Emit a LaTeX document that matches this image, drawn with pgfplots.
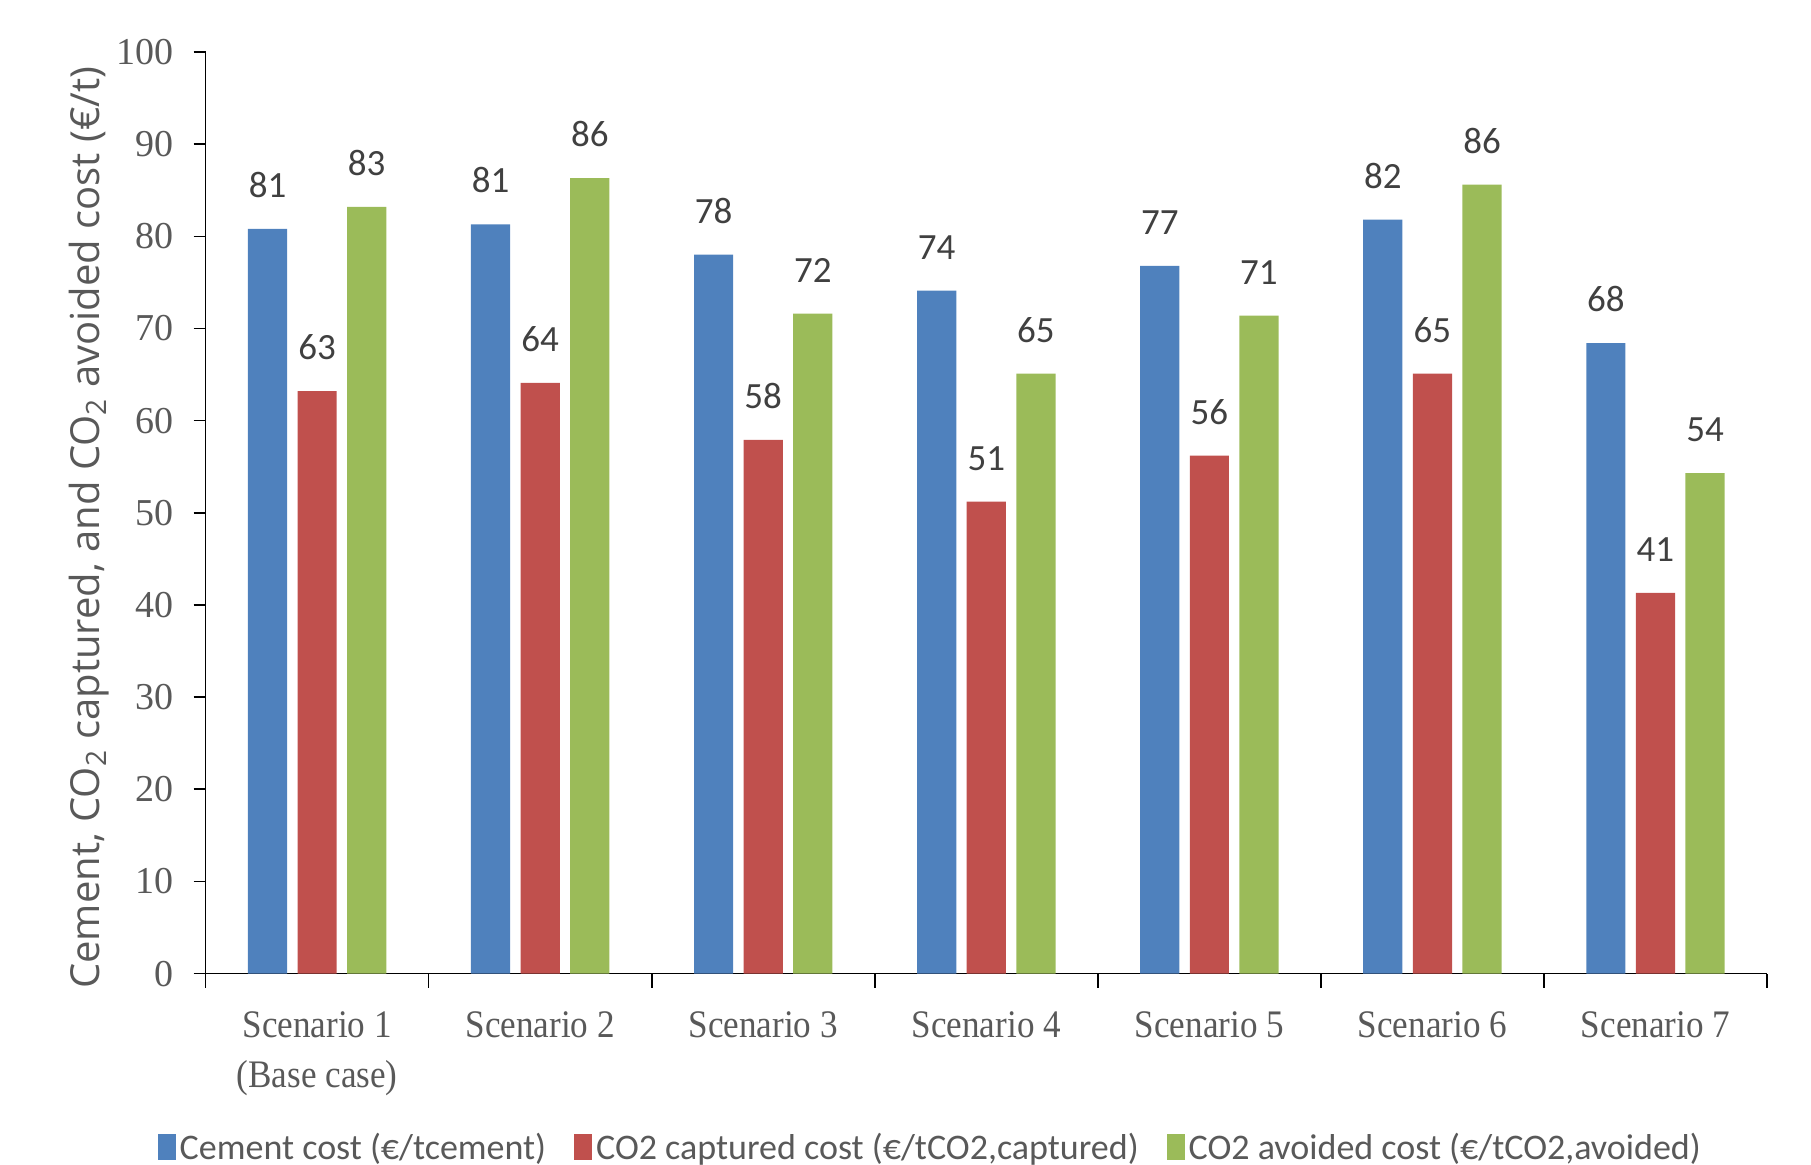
\documentclass[border=0pt]{standalone}
\usepackage{fontspec}
\setmainfont{Carlito}
\newfontfamily\labfont{Open Sans}
\newfontfamily\tickfont[FakeStretch=0.9]{Liberation Serif}
\newfontfamily\numfont{Liberation Serif}
\usepackage{pgfplots}
\pgfplotsset{compat=1.18}
\definecolor{cblue}{HTML}{4F81BD}
\definecolor{cred}{HTML}{C0504D}
\definecolor{cgreen}{HTML}{9BBB59}
\definecolor{tgray}{HTML}{595959}
\definecolor{lgray}{HTML}{404040}
\begin{document}
\begin{tikzpicture}
\path[use as bounding box] (-102.8pt,-95.7pt) rectangle (802.7pt,486.8pt);
\begin{axis}[
  at={(0,0)}, anchor=south west,
  scale only axis, width=780.7pt, height=460.8pt,
  ybar=5.2pt, bar width=19.6pt,
  xmin=-0.5, xmax=6.5, ymin=0, ymax=100,
  ytick={0,10,...,100},
  xtick={0,...,6},
  xticklabels={{Scenario 1\\(Base case)},Scenario 2,Scenario 3,Scenario 4,Scenario 5,Scenario 6,Scenario 7},
  minor xtick={-0.5,0.5,...,6.5},
  major x tick style={draw=none},
  minor x tick style={black, line width=0.8pt},
  major tick length=6pt, minor tick length=7pt,
  tick align=outside,
  axis lines*=left,
  axis line style={black, line width=0.8pt},
  y tick style={black, line width=0.8pt},
  xticklabel style={font=\tickfont\fontsize{19.5}{25}\selectfont, text=tgray, align=center, yshift=-9.5pt},
  yticklabel style={font=\numfont\fontsize{19}{20}\selectfont, text=tgray, xshift=-6.5pt},
  /pgf/number format/assume math mode=true,
  ylabel={Cement, CO\textsubscript{2} captured, and CO\textsubscript{2} avoided cost (€/t)},
  ylabel style={at={(axis description cs:-0.0743,0.484)}, anchor=center, font=\labfont\fontsize{20}{22}\selectfont, text=tgray},
  nodes near coords={\pgfmathprintnumber[fixed,precision=0]{\pgfplotspointmeta}},
  every node near coord/.append style={font=\fontsize{18.5}{20}\selectfont, text=lgray, yshift=12pt},
  legend columns=3,
  legend style={at={(axis description cs:0.5,0)}, anchor=center, yshift=-87pt, xshift=-27.5pt, draw=none,
    font=\fontsize{18}{20}\selectfont, text=tgray, /tikz/every even column/.append style={column sep=12pt}},
  legend image code/.code={\fill[#1] (0pt,-6pt) rectangle (9pt,7pt);},
]
\addplot[fill=cblue, draw=none] coordinates {(0,80.8) (1,81.3) (2,78.0) (3,74.1) (4,76.8) (5,81.8) (6,68.4)};
\addplot[fill=cred, draw=none] coordinates {(0,63.2) (1,64.1) (2,57.9) (3,51.2) (4,56.2) (5,65.1) (6,41.3)};
\addplot[fill=cgreen, draw=none] coordinates {(0,83.2) (1,86.3) (2,71.6) (3,65.1) (4,71.4) (5,85.6) (6,54.3)};
\legend{Cement cost (€/tcement), CO2 captured cost (€/tCO2{,}captured), CO2 avoided cost (€/tCO2{,}avoided)}
\end{axis}
\end{tikzpicture}
\end{document}
